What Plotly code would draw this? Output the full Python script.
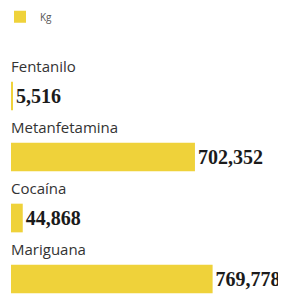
import plotly.graph_objects as go

categories = ["Fentanilo", "Metanfetamina", "Cocaína", "Mariguana"]
kg_values = [5516, 702352, 44868, 769778]
series_name = "Kg"

BAR_COLOR = "#EFD23A"

fig = go.Figure()
fig.add_trace(go.Bar(
    x=kg_values,
    y=categories,
    orientation="h",
    name=series_name,
    marker=dict(color=BAR_COLOR, line=dict(width=0)),
    width=0.47,
    texttemplate="%{x:,}",
    textposition="outside",
    constraintext="none",
    cliponaxis=False,
    textfont=dict(family="Liberation Serif", size=20, color="#1b1b1b", weight="bold"),
    showlegend=True,
))

# page body has a default 8px margin, so the figure is sized to fit the window
fig.update_layout(
    width=278, height=287,
    margin=dict(l=3, r=0, t=0, b=0, autoexpand=False),
    paper_bgcolor="white", plot_bgcolor="white",
    showlegend=True,
    legend=dict(
        x=-0.04, y=1.02, xanchor="left", yanchor="top",
        itemwidth=30,
        font=dict(family="Open Sans", size=10, color="#555555"),
        bgcolor="rgba(0,0,0,0)",
    ),
    xaxis=dict(range=[0, 1.05e6], visible=False, fixedrange=True),
    yaxis=dict(
        type="category",
        categoryorder="array", categoryarray=categories,
        range=[3.262, -1.443],
        showgrid=False, zeroline=False, showline=False,
        ticks="",
        ticklabelposition="inside",
        ticklabelshift=29,
        ticklabelstandoff=-3,
        tickfont=dict(family="Open Sans", size=15, color="#333333"),
    ),
)

fig.write_html("out.html")
